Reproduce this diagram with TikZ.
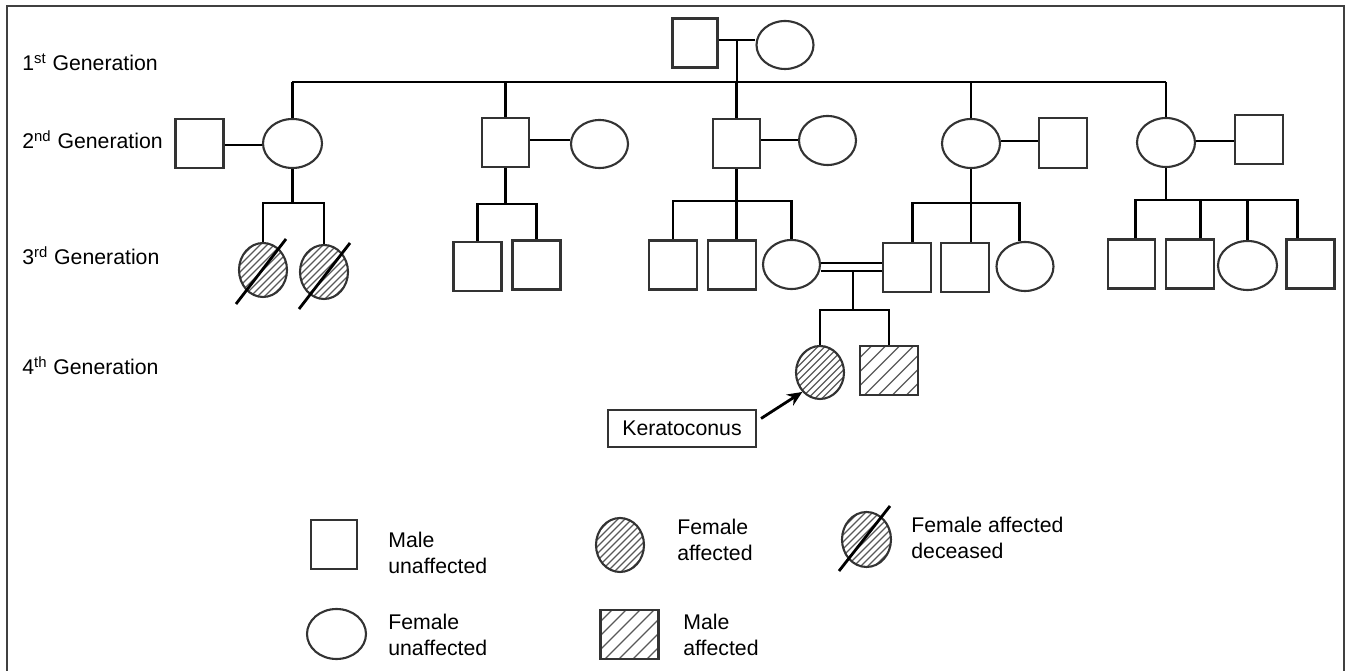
\documentclass[tikz,border=0pt]{standalone}
\usepackage{fontspec}
\setmainfont{Liberation Sans}
\usetikzlibrary{shapes.geometric,arrows.meta}
\begin{document}
\begin{tikzpicture}[x=0.02cm,y=-0.02cm,
  conn/.style={line width=1.6pt, black},
  shp/.style={draw=black!80, line width=1.2pt, inner sep=0pt},
  male/.style={shp, rectangle, minimum width=0.96cm, minimum height=0.98cm},
  female/.style={shp, ellipse, minimum width=1.16cm, minimum height=0.98cm},
  hatchline/.style={draw=black!65, line width=0.65pt},
  hatchF/.style={path picture={\foreach \k in {-8,...,8}{\draw[hatchline] ([xshift=\k*0.14cm]path picture bounding box.center) ++(-0.8cm,-0.8cm) -- ++(1.6cm,1.6cm);}}},
  hatchM/.style={path picture={\foreach \k in {-5,...,5}{\draw[hatchline] ([xshift=\k*0.28cm]path picture bounding box.center) ++(-0.8cm,-0.8cm) -- ++(1.6cm,1.6cm);}}},
  faff/.style={shp, ellipse, minimum width=0.96cm, minimum height=1.08cm, hatchF},
  maff/.style={shp, rectangle, minimum width=1.16cm, minimum height=0.98cm, hatchM},
  slash/.style={line width=1.6pt, black},
  lbl/.style={font=\fontsize{12.1}{14.7}\selectfont, inner sep=0pt, align=left},
]
\useasboundingbox (0,0) rectangle (1346,671);
\draw[black!75, line width=0.9pt] (7,671) -- (7,6) -- (1344,6) -- (1344,671);

% generation labels
\node[lbl, anchor=base west] (gen1) at (22,71) {1\textsuperscript{st} Generation};
\node[lbl, anchor=base west] (gen2) at (22,149) {2\textsuperscript{nd} Generation};
\node[lbl, anchor=base west] (gen3) at (22,265) {3\textsuperscript{rd} Generation};
\node[lbl, anchor=base west] (gen4) at (22,375) {4\textsuperscript{th} Generation};

% generation 1
\node[male, minimum width=0.9cm] (g1m) at (695,43) {};
\node[female, minimum width=1.14cm, minimum height=0.96cm] (g1f) at (785,45) {};
\coordinate (m1) at (737,40);
\draw[conn] (g1m.east |- m1) -- (g1f.west |- m1);
\coordinate (s1L) at (292,82);
\coordinate (s1R) at (1166,82);
\draw[conn] (m1) -- (m1 |- s1L);
\draw[conn] (s1L) -- (s1R);

% generation 2
\node[male] (a1m) at (199.5,143.5) {};
\node[female, minimum width=1.18cm] (a1f) at (292.5,143.5) {};
\node[male, minimum width=0.94cm] (b1m) at (505.5,142.5) {};
\node[female, minimum width=1.14cm, minimum height=0.96cm] (b1f) at (599.5,144) {};
\node[male, minimum width=0.94cm] (c1m) at (736.5,143.5) {};
\node[female, minimum width=1.14cm] (c1f) at (827.5,140.5) {};
\node[female] (d1f) at (971,143.5) {};
\node[male, minimum height=1cm] (d1m) at (1063,143) {};
\node[female] (e1f) at (1166,142.5) {};
\node[male] (e1m) at (1259,139.5) {};

\draw[conn] (a1f.north |- s1L) -- (a1f.north);
\draw[conn] (b1m.north |- s1L) -- (b1m.north);
\draw[conn] (c1m.north |- s1L) -- (c1m.north);
\draw[conn] (d1f.north |- s1L) -- (d1f.north);
\draw[conn] (e1f.north |- s1L) -- (e1f.north);

\draw[conn] (a1m.east |- 0,145) -- (a1f.west |- 0,145);
\draw[conn] (b1m.east |- 0,140) -- (b1f.west |- 0,140);
\draw[conn] (c1m.east |- 0,140) -- (c1f.west |- 0,140);
\draw[conn] (d1f.east |- 0,141) -- (d1m.west |- 0,141);
\draw[conn] (e1f.east |- 0,141) -- (e1m.west |- 0,141);

% generation 3 - family a
\node[faff] (ax1) at (263,270) {};
\node[faff] (ax2) at (324,272) {};
\draw[conn] (a1f.south) -- (a1f.south |- 0,203);
\draw[conn] (ax1.north) -- (ax1.north |- 0,203) -- (ax2.north |- 0,203) -- (ax2.north);
\draw[slash] ([shift={(-27,34)}]ax1.center) -- ([shift={(23,-31)}]ax1.center);
\draw[slash] ([shift={(-25,37)}]ax2.center) -- ([shift={(26,-29)}]ax2.center);

% family b
\node[male] (bx1) at (477.5,266.5) {};
\node[male] (bx2) at (536.5,265) {};
\draw[conn] (b1m.south) -- (b1m.south |- 0,204);
\draw[conn] (bx1.north) -- (bx1.north |- 0,204) -- (bx2.north |- 0,204) -- (bx2.north);

% family c
\node[male] (cx1) at (673,265) {};
\node[male] (cx2) at (732,265) {};
\node[female, minimum width=1.14cm] (cx3) at (791.5,264.5) {};
\draw[conn] (c1m.south) -- (c1m.south |- cx2.north);
\draw[conn] (cx1.north) -- (cx1.north |- 0,201) -- (cx3.north |- 0,201) -- (cx3.north);

% family d
\node[male] (dx1) at (907,267.5) {};
\node[male] (dx2) at (965,267.5) {};
\node[female, minimum width=1.14cm] (dx3) at (1025,266.5) {};
\draw[conn] (d1f.south) -- (d1f.south |- dx2.north);
\draw[conn] ([xshift=3]dx1.north) -- ([xshift=3]dx1.north |- 0,203) -- ([xshift=-3]dx3.north |- 0,203) -- ([xshift=-3]dx3.north);

% family e
\node[male, minimum width=0.94cm] (ex1) at (1131.5,264) {};
\node[male] (ex2) at (1190,264) {};
\node[female, minimum width=1.18cm] (ex3) at (1247.5,265.5) {};
\node[male] (ex4) at (1310.5,264) {};
\draw[conn] (e1f.south) -- (e1f.south |- 0,200);
\draw[conn] ([xshift=2.5]ex1.north) -- ([xshift=2.5]ex1.north |- 0,200) -- ([xshift=-7.5]ex4.north |- 0,200) -- ([xshift=-7.5]ex4.north);
\draw[conn] ([xshift=6]ex2.north |- 0,200) -- ([xshift=6]ex2.north);
\draw[conn] (ex3.north |- 0,200) -- (ex3.north);

% consanguineous union
\draw[conn] (cx3.east |- 0,263) -- (dx1.west |- 0,263);
\draw[conn] (cx3.east |- 0,271) -- (dx1.west |- 0,271);
\coordinate (cu) at (853,271);

% generation 4
\node[faff, minimum height=1.06cm] (kf) at (820,372.5) {};
\node[maff] (km) at (889,370.5) {};
\draw[conn] (cu) -- (cu |- 0,310);
\draw[conn] (kf.north) -- (kf.north |- 0,310) -- (km.north |- 0,310) -- (km.north);

% keratoconus label
\node[shp, lbl, draw=black!80, line width=1.2pt, minimum width=2.96cm, minimum height=0.74cm] (kb) at (682,428.5) {Keratoconus};
\draw[conn, -{Stealth[length=0.3cm, width=0.26cm]}] ([shift={(4,-10)}]kb.east) -- (kf.south west);

% legend
\node[male, minimum width=0.92cm] (lm) at (334,544.5) {};
\node[lbl, anchor=west] (lmt) at (388,553) {Male\\unaffected};
\node[female, minimum width=1.18cm, minimum height=1cm] (lf) at (336.5,634) {};
\node[lbl, anchor=west] (lft) at (388,635) {Female\\unaffected};
\node[faff] (lfa) at (620,545) {};
\node[lbl, anchor=west] (lfat) at (677,540) {Female\\affected};
\node[maff] (lma) at (629.5,634.5) {};
\node[lbl, anchor=west] (lmat) at (683,635) {Male\\affected};
\node[faff, minimum width=0.98cm, minimum height=1.1cm] (lfd) at (866.5,539.5) {};
\draw[slash] ([shift={(-27.5,31.5)}]lfd.center) -- ([shift={(23.5,-33.5)}]lfd.center);
\node[lbl, anchor=west] (lfdt) at (911,537.5) {Female affected\\deceased};
\end{tikzpicture}
\end{document}
